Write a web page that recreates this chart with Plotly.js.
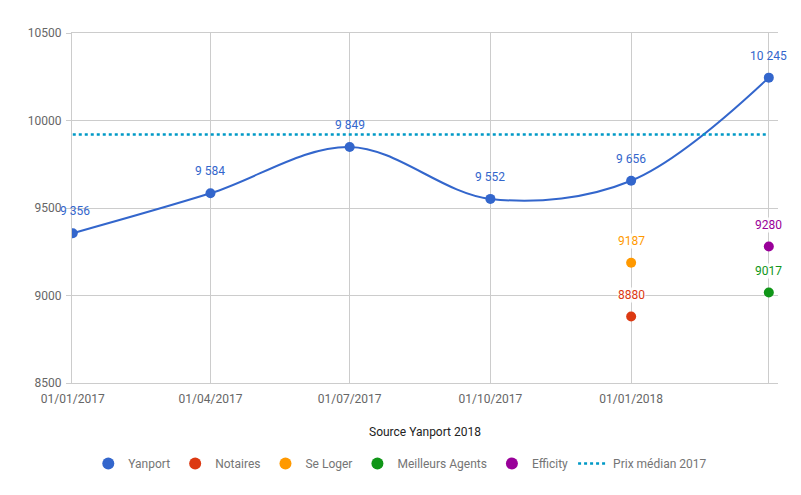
<!DOCTYPE html>
<html>
<head>
<meta charset="utf-8">
<script src="https://cdn.plot.ly/plotly-3.0.1.min.js"></script>
<style>html,body{margin:0;padding:0;background:#fff;}#chart{width:801px;height:495px;}</style>
</head>
<body>
<div id="chart"></div>
<script>
const dates = ['2017-01-01','2017-04-01','2017-07-01','2017-10-01','2018-01-01','2018-04-01'];
const tickLabels = ['01/01/2017','01/04/2017','01/07/2017','01/10/2017','01/01/2018',''];
const yanport = [9356, 9584, 9849, 9552, 9656, 10245];
const notairesDates = ['2018-01-01'];
const notaires = [8880];
const seLogerDates = ['2018-01-01'];
const seLoger = [9187];
const meilleursDates = ['2018-04-01'];
const meilleurs = [9017];
const efficityDates = ['2018-04-01'];
const efficity = [9280];
const prixMedianDates = ['2017-01-01','2018-04-01'];
const prixMedian = [9920, 9920];

const colors = {yan:'#3366cc', not:'#dc3912', sel:'#ff9900', mei:'#109618', eff:'#990099', prix:'#0099c6'};
const fmtSpace = v => String(v).replace(/\B(?=(\d{3})+(?!\d))/g, ' ');

const series = [
  {name:'Yanport', x:dates, y:yanport, color:colors.yan, line:true},
  {name:'Notaires', x:notairesDates, y:notaires, color:colors.not},
  {name:'Se Loger', x:seLogerDates, y:seLoger, color:colors.sel},
  {name:'Meilleurs Agents', x:meilleursDates, y:meilleurs, color:colors.mei},
  {name:'Efficity', x:efficityDates, y:efficity, color:colors.eff}
];

const traces = [];
series.forEach(s => {
  traces.push({x:s.x, y:s.y, name:s.name, mode: s.line ? 'lines+markers' : 'markers', showlegend:false,
    line:{color:s.color, width:2, shape:'spline', smoothing:1}, marker:{color:s.color, size:10}});
});
series.forEach(s => {
  traces.push({x:[null], y:[null], name:s.name, mode:'markers', marker:{color:s.color, size:12}});
});
traces.push({x: prixMedianDates, y: prixMedian, name:'Prix médian 2017', mode:'lines', line:{color:colors.prix, width:2.5, dash:'dot'}});

const annotations = [];
function addLabels(xs, ys, color, fmt, bg, firstShift){
  xs.forEach((d,i)=>annotations.push({x:d, y:ys[i], xref:'x', yref:'y', text:fmt(ys[i]), showarrow:false, yshift:22, xshift:(i===0 ? firstShift : 0), font:{family:'Roboto', size:12, color:color}, bgcolor:bg, borderpad:0}));
}
addLabels(dates, yanport, colors.yan, fmtSpace, 'rgba(0,0,0,0)', 2);
addLabels(notairesDates, notaires, colors.not, String, 'rgba(255,255,255,0.85)', 0);
addLabels(seLogerDates, seLoger, colors.sel, String, 'rgba(255,255,255,0.85)', 0);
addLabels(meilleursDates, meilleurs, colors.mei, String, 'rgba(255,255,255,0.85)', 0);
addLabels(efficityDates, efficity, colors.eff, String, 'rgba(255,255,255,0.85)', 0);

const layout = {
  width:801, height:495,
  margin:{l:72, r:23, t:33, b:112},
  paper_bgcolor:'#fff', plot_bgcolor:'#fff',
  font:{family:'Roboto', size:12, color:'#666'},
  showlegend:true,
  hovermode:false,
  legend:{orientation:'h', x:0.465, xanchor:'center', y:-0.23, yanchor:'middle', font:{family:'Roboto', size:12, color:'#757575'}, itemwidth:30, tracegroupgap:0},
  xaxis:{
    type:'date',
    range:['2016-12-31 12:00','2018-04-07'],
    tickvals: dates, ticktext: tickLabels,
    showgrid:true, gridcolor:'#cccccc', gridwidth:1,
    showline:true, linecolor:'#cccccc', mirror:true,
    ticks:'', zeroline:false, ticklabelstandoff:5,
    tickfont:{family:'Roboto', size:12, color:'#666'},
    title:{text:'Source Yanport 2018', font:{family:'Roboto', size:12, color:'#222'}, standoff:22}
  },
  yaxis:{
    range:[8500,10500], dtick:500, tick0:8500,
    showgrid:true, gridcolor:'#cccccc', gridwidth:1,
    showline:true, linecolor:'#cccccc',
    ticks:'outside', ticklen:5, tickcolor:'#cccccc', ticklabelstandoff:2,
    zeroline:false, tickformat:'d',
    tickfont:{family:'Roboto', size:12, color:'#666'}
  },
  annotations: annotations
};

Plotly.newPlot('chart', traces, layout, {displayModeBar:false, staticPlot:true});
</script>
</body>
</html>
